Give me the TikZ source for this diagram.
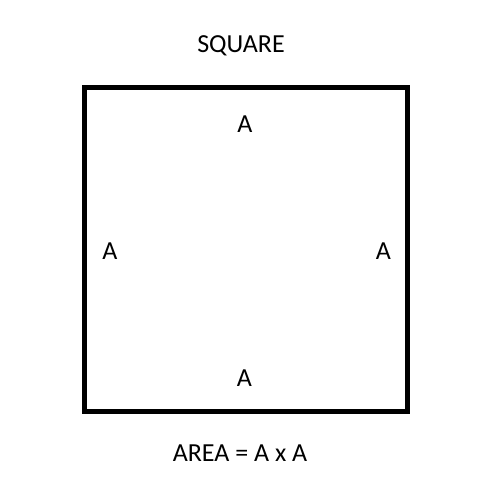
\documentclass[tikz,border=0pt]{standalone}
\usepackage{fontspec}
\setmainfont{Carlito}
\begin{document}
\begin{tikzpicture}[x=1pt,y=-1pt,
  lbl/.style={inner sep=0pt,anchor=base,font=\fontsize{26}{30}\selectfont}]
\useasboundingbox[fill=white] (0,0) rectangle (500,500);
\draw[line width=5pt] (84.5,87.5) rectangle (407.5,411.5);
\node[lbl] (title) at (241,53) {SQUARE};
\node[lbl] (top) at (245,132) {A};
\node[lbl] (left) at (110,259) {A};
\node[lbl] (right) at (383.5,259) {A};
\node[lbl] (bottom) at (244.3,386) {A};
\node[lbl] (area) at (240,461.5) {AREA = A x A};
\end{tikzpicture}
\end{document}
